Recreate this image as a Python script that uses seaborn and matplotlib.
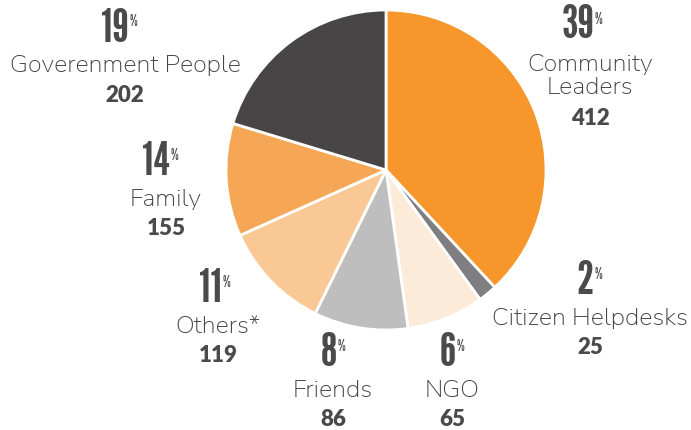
import matplotlib.pyplot as plt
import seaborn as sns

# data
categories = ["Community\nLeaders", "Citizen Helpdesks", "NGO", "Friends",
              "Others*", "Family", "Goverenment People"]
counts = [412, 25, 65, 86, 119, 155, 202]
pct_labels = ["39", "2", "6", "8", "11", "14", "19"]
# wedge sizes as drawn in the original graphic (percent of circle)
wedge_share = [38.1, 1.9, 7.8, 9.5, 11.0, 11.4, 20.3]
colors = ["#F7962B", "#7F7E80", "#FDEBDA", "#BEBEBE", "#F9C894", "#F6A755", "#474546"]

# label anchor (x, y of percent line) in pixel coords
label_pos = [(590, 25), (590, 281), (452, 353), (333, 353),
             (218, 289), (166, 162), (125, 28)]

sns.set_theme(style="white")
plt.rcParams["font.family"] = ["Nunito Sans", "Lato", "DejaVu Sans"]
txt = "#4A4A4A"
cond = ["League Gothic", "Oswald", "Barlow Condensed", "DejaVu Sans"]

fig = plt.figure(figsize=(6.91, 4.31), dpi=100)
ax = fig.add_axes([0, 0, 1, 1])

ax.pie(wedge_share, colors=colors, startangle=-90, counterclock=True,
       center=(386, 171), radius=160,
       wedgeprops=dict(edgecolor="white", linewidth=2))
ax.set_xlim(0, 691)
ax.set_ylim(431, 0)
ax.set_aspect("auto")
ax.axis("off")

for name, n, p, (x, y) in zip(categories, counts, pct_labels, label_pos):
    ax.text(x + 4, y + 1, p, ha="right", va="center", fontsize=34,
            family=cond, weight="normal", color=txt)
    ax.text(x + 5, y - 6, "%", ha="left", va="center", fontsize=11,
            family=cond, weight="normal", color=txt)
    two = "\n" in name
    ax.text(x, y + (51 if two else 38), name, ha="center", va="center",
            fontsize=18, weight="normal", color="#444444",
            linespacing=1.12)
    ax.text(x, y + (94 if two else 67), str(n), ha="center", va="center",
            fontsize=16, weight="heavy", family=["Lato", "DejaVu Sans"],
            color=txt)

plt.savefig("out.png", dpi=100)
